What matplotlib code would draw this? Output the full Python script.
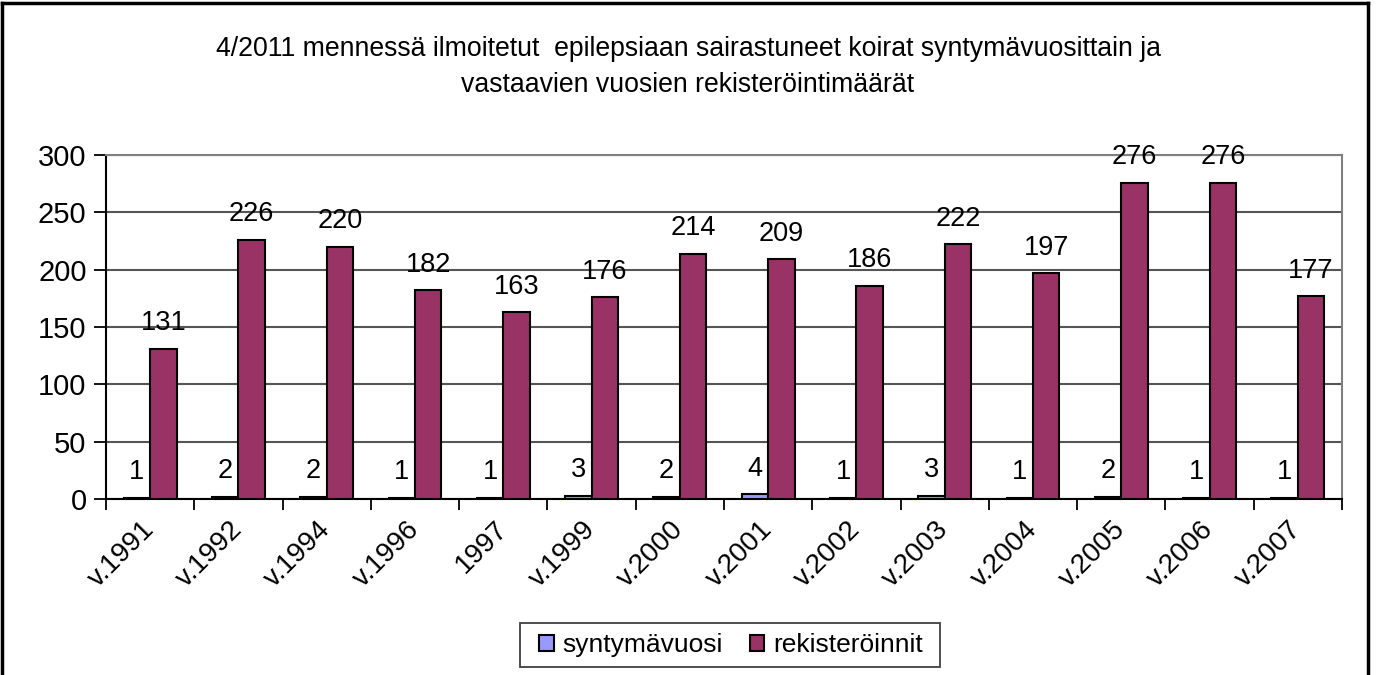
import matplotlib
matplotlib.use("Agg")
import matplotlib.pyplot as plt
from matplotlib.lines import Line2D
from matplotlib.patches import Rectangle
import numpy as np

plt.rcParams['font.family'] = ['Liberation Sans', 'DejaVu Sans']

categories = ["v.1991", "v.1992", "v.1994", "v.1996", "1997", "v.1999", "v.2000",
              "v.2001", "v.2002", "v.2003", "v.2004", "v.2005", "v.2006", "v.2007"]
syntymavuosi = [1, 2, 2, 1, 1, 3, 2, 4, 1, 3, 1, 2, 1, 1]
rekisteroinnit = [131, 226, 220, 182, 163, 176, 214, 209, 186, 222, 197, 276, 276, 177]
yticks = [0, 50, 100, 150, 200, 250, 300]
title = ("4/2011 mennessä ilmoitetut  epilepsiaan sairastuneet koirat syntymävuosittain ja\n"
         "vastaavien vuosien rekisteröintimäärät")

W, H = 1378, 675
fig = plt.figure(figsize=(W / 100, H / 100), dpi=100)
ax = fig.add_axes([106 / W, 1 - 499 / H, (1342 - 106) / W, (499 - 155) / H])

x = np.arange(len(categories))
bw = 0.3
b1 = ax.bar(x - bw / 2, syntymavuosi, width=bw, color="#9999FF", edgecolor="black",
            linewidth=1.5, label="syntymävuosi", zorder=3)
b2 = ax.bar(x + bw / 2, rekisteroinnit, width=bw, color="#993366", edgecolor="black",
            linewidth=1.5, label="rekisteröinnit", zorder=3)

for bars in (b1, b2):
    for rect in bars:
        ax.annotate(f"{int(rect.get_height())}",
                    (rect.get_x() + rect.get_width() / 2, rect.get_height()),
                    xytext=(0, 9), textcoords="offset points",
                    ha="center", va="bottom", fontsize=19.5, color="black")

ax.set_xlim(-0.5, len(categories) - 0.5)
ax.set_ylim(0, 300)
ax.set_yticks(yticks)
ax.tick_params(axis="y", labelsize=21, length=9, width=1.3, direction="out", pad=5)
ax.set_xticks(x)
ax.set_xticklabels(categories, rotation=45, ha="right", va="center",
                   rotation_mode="anchor", fontsize=20)
ax.tick_params(axis="x", which="major", length=0, pad=19)
ax.set_xticks(np.arange(-0.5, len(categories), 1.0), minor=True)
ax.tick_params(axis="x", which="minor", length=8, width=1.3, direction="out")

ax.yaxis.grid(True, color="#555555", linewidth=1.5, zorder=0)
ax.set_axisbelow(True)
for s in ("left", "bottom"):
    ax.spines[s].set_color("black")
    ax.spines[s].set_linewidth(1.5)
for s in ("top", "right"):
    ax.spines[s].set_color("#808080")
    ax.spines[s].set_linewidth(1.5)

fig.text(688 / W, 1 - 67 / H, title, ha="center", va="center", fontsize=19.2,
         linespacing=1.5)

fig.add_artist(Rectangle((520 / W, 1 - 667 / H), 420 / W, 44 / H, transform=fig.transFigure,
                         facecolor="white", edgecolor="#404040", linewidth=1.3))
leg = fig.legend(handles=[b1, b2], loc="center", bbox_to_anchor=(731 / W, 1 - 645 / H),
                 ncol=2, fontsize=19, frameon=False,
                 handlelength=0.55, handleheight=0.55, handletextpad=0.35,
                 columnspacing=1.0, borderpad=0.2)

for xs, ys in (([2 / W, 2 / W], [0, 1 - 3 / H]),
               ([2 / W, 1368 / W], [1 - 3 / H, 1 - 3 / H]),
               ([1368 / W, 1368 / W], [0, 1 - 3 / H])):
    fig.add_artist(Line2D(xs, ys, transform=fig.transFigure, color="black", linewidth=2.5))

fig.savefig("out.png", dpi=100)
